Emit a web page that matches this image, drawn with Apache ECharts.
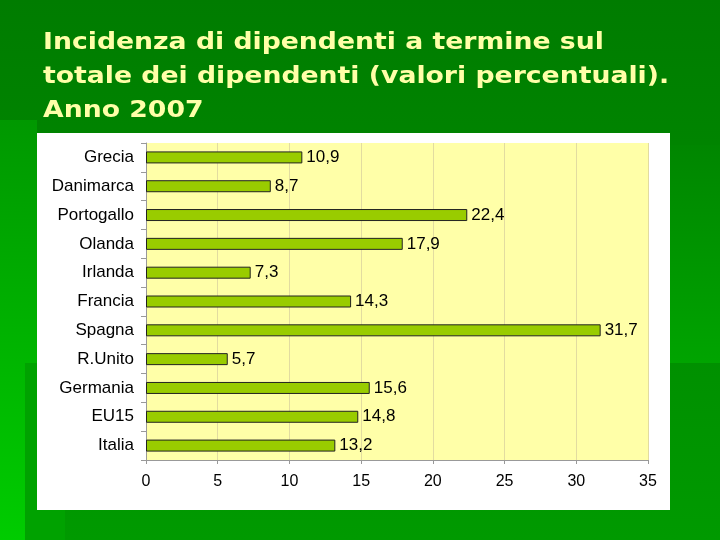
<!DOCTYPE html>
<html>
<head>
<meta charset="utf-8">
<script src="https://cdn.jsdelivr.net/npm/echarts@6/dist/echarts.min.js"></script>
<style>
  html, body { margin: 0; padding: 0; }
  #chart { width: 720px; height: 540px; }
</style>
</head>
<body>
<div id="chart"></div>
<script>
// dati
const paesi = ['Grecia', 'Danimarca', 'Portogallo', 'Olanda', 'Irlanda', 'Francia', 'Spagna', 'R.Unito', 'Germania', 'EU15', 'Italia'];
const valori = [10.9, 8.7, 22.4, 17.9, 7.3, 14.3, 31.7, 5.7, 15.6, 14.8, 13.2];
const titolo = 'Incidenza di dipendenti a termine sul\ntotale dei dipendenti (valori percentuali).\nAnno 2007';

const fonte = 'Liberation Sans, Arial, sans-serif';

var chart = echarts.init(document.getElementById('chart'));
chart.setOption({
    animation: false,
    backgroundColor: {
        type: 'linear', x: 0, y: 0, x2: 0, y2: 1,
        colorStops: [
            { offset: 0, color: '#007c00' },
            { offset: 1, color: '#009a00' },
        ],
    },
    graphic: [
        // fasce decorative dello sfondo
        {
            type: 'rect', z: -3,
            shape: { x: 0, y: 120, width: 37, height: 420 },
            style: {
                fill: {
                    type: 'linear', x: 0, y: 0, x2: 0, y2: 1,
                    colorStops: [
                        { offset: 0, color: '#009800' },
                        { offset: 1, color: '#00cc00' },
                    ],
                },
            },
        },
        {
            type: 'rect', z: -2,
            shape: { x: 25, y: 363, width: 40, height: 177 },
            style: { fill: '#00a200' },
        },
        {
            type: 'rect', z: -3,
            shape: { x: 670, y: 145, width: 50, height: 218 },
            style: {
                fill: {
                    type: 'linear', x: 0, y: 0, x2: 0, y2: 1,
                    colorStops: [
                        { offset: 0, color: '#008600' },
                        { offset: 1, color: '#00a400' },
                    ],
                },
            },
        },
        {
            type: 'rect', z: -1,
            shape: { x: 37, y: 133, width: 633, height: 377 },
            style: { fill: '#ffffff' },
        },
        // titolo della diapositiva
        {
            type: 'text',
            x: 43,
            y: 26,
            scaleX: 1.16,
            style: {
                text: titolo,
                fill: '#ffffa8',
                font: 'bold 23px "DejaVu Sans", Verdana, sans-serif',
                lineHeight: 34,
            },
        },
    ],
    grid: {
        left: 146,
        right: 72,
        top: 143,
        bottom: 80,
        show: true,
        backgroundColor: '#ffffa8',
        borderWidth: 0,
    },
    xAxis: {
        type: 'value',
        min: 0,
        max: 35,
        interval: 5,
        axisLine: { show: true, lineStyle: { color: '#999999' } },
        axisTick: { show: true, length: 4, lineStyle: { color: '#999999' } },
        axisLabel: {
            color: '#000',
            fontSize: 16,
            fontFamily: fonte,
            margin: 14,
        },
        splitLine: { show: true, lineStyle: { color: '#e2dca0' } },
    },
    yAxis: {
        type: 'category',
        data: paesi,
        inverse: true,
        axisLine: { show: true, lineStyle: { color: '#999999' } },
        axisTick: { show: true, length: 5, lineStyle: { color: '#999999' } },
        axisLabel: {
            color: '#000',
            fontSize: 17,
            fontFamily: fonte,
            margin: 12,
        },
    },
    series: [
        {
            type: 'bar',
            data: valori,
            barWidth: 12,
            itemStyle: {
                color: '#99cc00',
                borderColor: '#222',
                borderWidth: 1,
            },
            label: {
                show: true,
                position: 'right',
                distance: 4,
                color: '#000',
                fontSize: 17,
                fontFamily: fonte,
                formatter: function (p) {
                    return String(p.value).replace('.', ',');
                },
            },
        },
    ],
});
</script>
</body>
</html>
